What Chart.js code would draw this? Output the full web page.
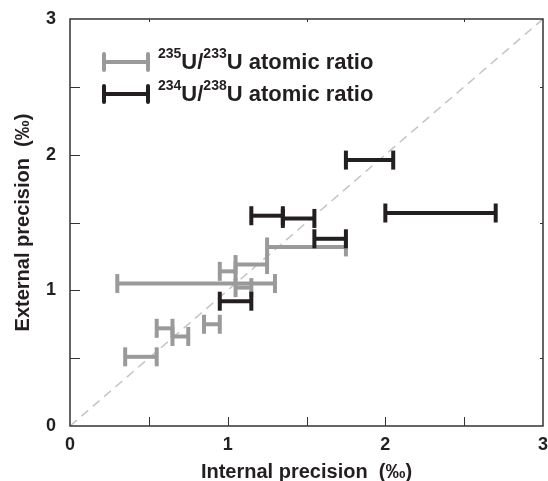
<!DOCTYPE html>
<html>
<head>
	<title>Internal vs external precision</title>
	<script src="https://cdn.jsdelivr.net/npm/chart.js"></script>
	<style>
		body { margin: 0; background: #fff; }
	</style>
</head>
<body>

	<canvas id="grafico" width="548" height="481"></canvas>

	<script>
		// 235U/233U ranges (internal precision, per mil) and their external precision
		var grisDesde = [0.35, 0.55, 0.65, 0.85, 0.30, 1.05, 0.95, 1.05, 1.25];
		var grisHasta = [0.55, 0.65, 0.75, 0.95, 1.30, 1.15, 1.05, 1.25, 1.75];
		var grisY     = [0.51, 0.72, 0.66, 0.75, 1.05, 1.02, 1.14, 1.19, 1.32];

		// 234U/238U ranges
		var negroDesde = [0.95, 1.15, 1.35, 1.55, 1.75, 2.00];
		var negroHasta = [1.15, 1.35, 1.55, 1.75, 2.05, 2.70];
		var negroY     = [0.92, 1.55, 1.53, 1.38, 1.96, 1.57];

		var etiquetasEje = [0, 1, 2, 3];
		var marcas = [0.5, 1, 1.5, 2, 2.5];
		var marcasCortas = [0.5, 1.5, 2.5];

		var leyenda = [
			{ sup1: '235', sup2: '233', texto: 'U atomic ratio', color: '#9a9a9a' },
			{ sup1: '234', sup2: '238', texto: 'U atomic ratio', color: '#231f20' }
		];

		var fuente = '"Liberation Sans", Arial, sans-serif';
		var GRIS = '#9a9a9a';
		var NEGRO = '#231f20';

		function barras(desde, hasta, ys, color, orden) {
			var lista = [];
			for (var i = 0; i < ys.length; i++) {
				lista.push({
					data: [{ x: desde[i], y: ys[i] }, { x: hasta[i], y: ys[i] }],
					showLine: true,
					borderColor: color,
					backgroundColor: color,
					borderWidth: 4,
					pointStyle: 'line',
					pointRotation: 90,
					pointRadius: 9.5,
					pointBorderWidth: 4,
					pointBorderColor: color,
					order: orden
				});
			}
			return lista;
		}

		var datasets = [].concat(
			barras(negroDesde, negroHasta, negroY, NEGRO, 1),
			barras(grisDesde, grisHasta, grisY, GRIS, 2),
			[{
				data: [{ x: 0, y: 0 }, { x: 3, y: 3 }],
				showLine: true,
				borderColor: '#c4c4c4',
				borderWidth: 1.5,
				borderDash: [9, 6],
				pointRadius: 0,
				order: 3
			}]
		);

		// frame, inward ticks and the legend drawn on top of the chart area
		var marco = {
			id: 'marco',
			afterDraw: function (chart) {
				var ctx = chart.ctx;
				var a = chart.chartArea;
				var sx = chart.scales.x, sy = chart.scales.y;
				ctx.save();
				ctx.strokeStyle = '#333';
				ctx.lineWidth = 1.5;
				ctx.strokeRect(a.left, a.top, a.right - a.left, a.bottom - a.top);
				ctx.lineWidth = 1;
				ctx.beginPath();
				marcas.forEach(function (v) {
					var px = Math.round(sx.getPixelForValue(v)) + 0.5;
					ctx.moveTo(px, a.bottom); ctx.lineTo(px, a.bottom - 9);
					var py = Math.round(sy.getPixelForValue(v)) + 0.5;
					ctx.moveTo(a.left, py); ctx.lineTo(a.left + 10, py);
				});
				marcasCortas.forEach(function (v) {
					var px = Math.round(sx.getPixelForValue(v)) + 0.5;
					ctx.moveTo(px, a.top); ctx.lineTo(px, a.top + 3);
					var py = Math.round(sy.getPixelForValue(v)) + 0.5;
					ctx.moveTo(a.right, py); ctx.lineTo(a.right - 3, py);
				});
				ctx.stroke();

				// legend
				leyenda.forEach(function (item, i) {
					var y = 62 + i * 32;
					ctx.strokeStyle = item.color;
					ctx.lineWidth = 4;
					ctx.lineCap = 'round';
					ctx.beginPath();
					ctx.moveTo(104, y); ctx.lineTo(148, y);
					ctx.moveTo(104, y - 8); ctx.lineTo(104, y + 8);
					ctx.moveTo(148, y - 8); ctx.lineTo(148, y + 8);
					ctx.stroke();

					var base = y + 7;
					var x = 158;
					ctx.fillStyle = NEGRO;
					ctx.textBaseline = 'alphabetic';
					ctx.font = 'bold 14px ' + fuente;
					ctx.fillText(item.sup1, x, base - 11);
					x += ctx.measureText(item.sup1).width;
					ctx.font = 'bold 22px ' + fuente;
					ctx.fillText('U/', x, base);
					x += ctx.measureText('U/').width;
					ctx.font = 'bold 14px ' + fuente;
					ctx.fillText(item.sup2, x, base - 11);
					x += ctx.measureText(item.sup2).width;
					ctx.font = 'bold 22px ' + fuente;
					ctx.fillText(item.texto, x, base);
				});
				ctx.restore();
			}
		};

		var ctx = document.getElementById('grafico').getContext('2d');
		var chart = new Chart(ctx, {
			type: 'scatter',
			data: { datasets: datasets },
			plugins: [marco],
			options: {
				responsive: false,
				animation: false,
				layout: { autoPadding: false, padding: { top: 19, right: 5, left: 0, bottom: 0 } },
				plugins: {
					legend: { display: false },
					tooltip: { enabled: false }
				},
				scales: {
					x: {
						type: 'linear',
						min: 0,
						max: 3,
						afterBuildTicks: function (s) { s.ticks = etiquetasEje.map(function (v) { return { value: v }; }); },
						afterFit: function (s) { s.height = 55; s.paddingLeft = 0; s.paddingRight = 0; },
						ticks: { color: NEGRO, padding: 8, font: { family: fuente, size: 18, weight: 'bold' } },
						grid: { display: false, drawTicks: false },
						border: { display: false },
						title: {
							display: true,
							text: 'Internal precision  (‰)',
							color: NEGRO,
							padding: { top: 0, bottom: -3 },
							font: { family: fuente, size: 20, weight: 'bold' }
						}
					},
					y: {
						type: 'linear',
						min: 0,
						max: 3,
						afterBuildTicks: function (s) { s.ticks = etiquetasEje.map(function (v) { return { value: v }; }); },
						afterFit: function (s) { s.width = 70; s.paddingTop = 0; s.paddingBottom = 0; },
						ticks: { color: NEGRO, padding: 14, font: { family: fuente, size: 18, weight: 'bold' } },
						grid: { display: false, drawTicks: false },
						border: { display: false },
						title: {
							display: true,
							text: 'External precision  (‰)',
							color: NEGRO,
							padding: { top: 11, bottom: 0 },
							font: { family: fuente, size: 20, weight: 'bold' }
						}
					}
				}
			}
		});
	</script>

</body>
</html>
